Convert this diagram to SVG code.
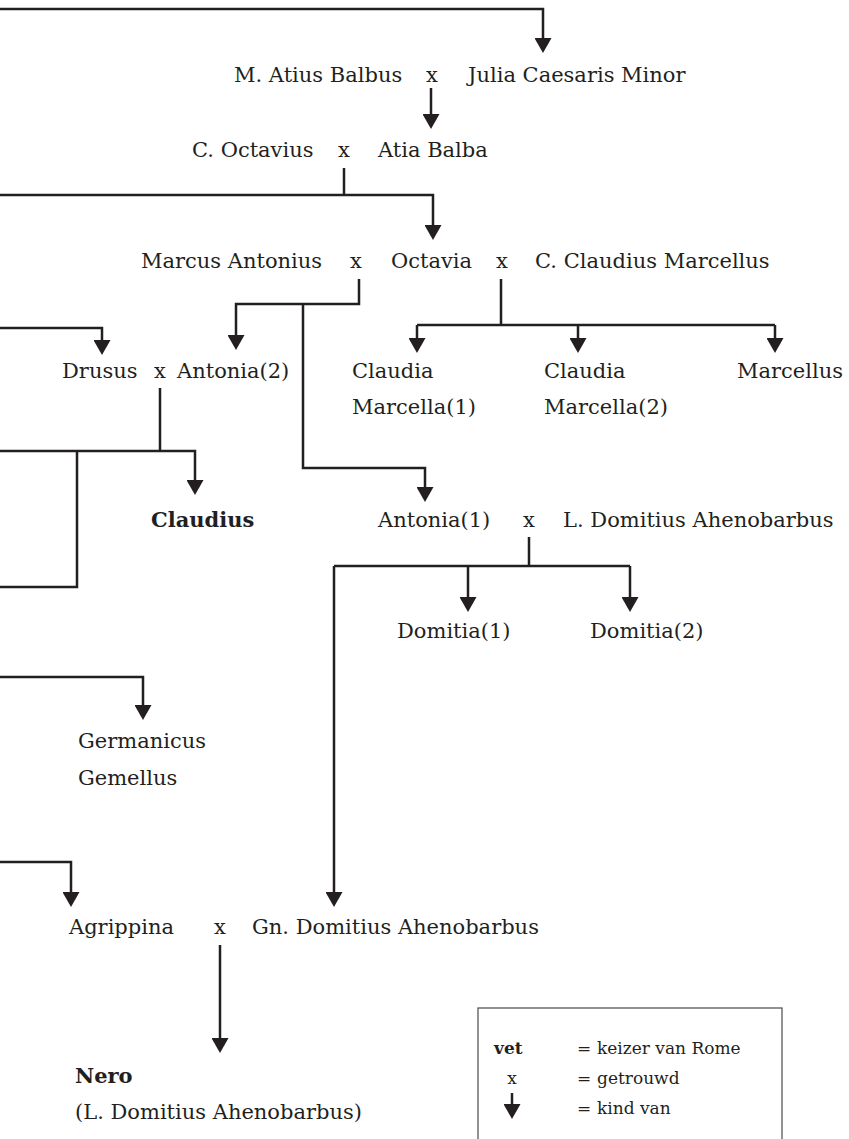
<svg xmlns="http://www.w3.org/2000/svg" width="849" height="1139" viewBox="0 0 849 1139">
<defs>
<marker id="ah" markerUnits="userSpaceOnUse" markerWidth="17" markerHeight="17" viewBox="0 0 15 17" refX="8" refY="8.5" orient="auto">
<path d="M0,0 L15,8.5 L0,17 z" fill="#231f20"/>
</marker>
</defs>
<style>
text{font-family:"DejaVu Serif","Liberation Serif",serif;font-size:21px;fill:#231f20}
.b{font-weight:bold}
.m{text-anchor:middle}
.lg{font-size:17px}
.c{fill:none;stroke:#231f20;stroke-width:2.5}
.a{marker-end:url(#ah)}
</style>
<rect width="849" height="1139" fill="#fff"/>
<g id="connectors">
<path class="c a" d="M0,9 H543 V46"/>
<path class="c a" d="M431,88 V122"/>
<path class="c" d="M344,168 V195"/>
<path class="c a" d="M0,195 H433 V233"/>
<path class="c a" d="M359,279 V304 H236 V343"/>
<path class="c a" d="M303,304 V468 H425 V495"/>
<path class="c" d="M501,279 V325 M417,325 H775"/>
<path class="c a" d="M417,325 V346"/>
<path class="c a" d="M578,325 V346"/>
<path class="c a" d="M775,325 V346"/>
<path class="c a" d="M0,328 H102 V348"/>
<path class="c" d="M160,388 V451 M77,451 V587 H0"/>
<path class="c a" d="M0,451 H195 V488"/>
<path class="c" d="M529,537 V566 M334,566 H630"/>
<path class="c a" d="M468,566 V605"/>
<path class="c a" d="M630,566 V605"/>
<path class="c a" d="M334,566 V900"/>
<path class="c a" d="M0,677 H143 V713"/>
<path class="c a" d="M0,862 H71 V900"/>
<path class="c a" d="M220,945 V1046"/>
</g>
<g id="n-atius"><text x="234" y="82">M. Atius Balbus</text></g>
<g id="m-atius"><text class="m" x="432" y="82">x</text></g>
<g id="n-julia"><text x="468" y="82">Julia Caesaris Minor</text></g>
<g id="n-octavius"><text x="192" y="157">C. Octavius</text></g>
<g id="m-octavius"><text class="m" x="344" y="157">x</text></g>
<g id="n-atia"><text x="378" y="157">Atia Balba</text></g>
<g id="n-antonius"><text x="141" y="268">Marcus Antonius</text></g>
<g id="m-antonius"><text class="m" x="356" y="268">x</text></g>
<g id="n-octavia"><text x="391" y="268">Octavia</text></g>
<g id="m-marcellus"><text class="m" x="502" y="268">x</text></g>
<g id="n-cmarcellus"><text x="535" y="268">C. Claudius Marcellus</text></g>
<g id="n-drusus"><text x="62" y="378">Drusus</text></g>
<g id="m-drusus"><text class="m" x="160" y="378">x</text></g>
<g id="n-antonia2"><text x="177" y="378">Antonia(2)</text></g>
<g id="n-claudia1"><text x="352" y="378">Claudia</text><text x="352" y="414">Marcella(1)</text></g>
<g id="n-claudia2"><text x="544" y="378">Claudia</text><text x="544" y="414">Marcella(2)</text></g>
<g id="n-marcellus"><text x="737" y="378">Marcellus</text></g>
<g id="n-claudius"><text class="b" x="151" y="527">Claudius</text></g>
<g id="n-antonia1"><text x="378" y="527">Antonia(1)</text></g>
<g id="m-antonia1"><text class="m" x="529" y="527">x</text></g>
<g id="n-ldomitius"><text x="563" y="527">L. Domitius Ahenobarbus</text></g>
<g id="n-domitia1"><text x="397" y="638">Domitia(1)</text></g>
<g id="n-domitia2"><text x="590" y="638">Domitia(2)</text></g>
<g id="n-germanicus"><text x="78" y="748">Germanicus</text><text x="78" y="785">Gemellus</text></g>
<g id="n-agrippina"><text x="69" y="934">Agrippina</text></g>
<g id="m-agrippina"><text class="m" x="220" y="934">x</text></g>
<g id="n-gndomitius"><text x="252" y="934">Gn. Domitius Ahenobarbus</text></g>
<g id="n-nero"><text class="b" x="75" y="1083">Nero</text><text x="75" y="1119">(L. Domitius Ahenobarbus)</text></g>
<g id="legend">
<rect x="478" y="1008" width="304" height="150" fill="none" stroke="#4a4a4a" stroke-width="1.2"/>
<text class="lg b" x="494" y="1054">vet</text>
<text class="lg" x="577" y="1054">=</text>
<text class="lg" x="597" y="1054">keizer van Rome</text>
<text class="lg m" x="512" y="1084">x</text>
<text class="lg" x="577" y="1084">=</text>
<text class="lg" x="597" y="1084">getrouwd</text>
<path class="c a" d="M512,1093 V1112"/>
<text class="lg" x="577" y="1114">=</text>
<text class="lg" x="597" y="1114">kind van</text>
</g>
</svg>
